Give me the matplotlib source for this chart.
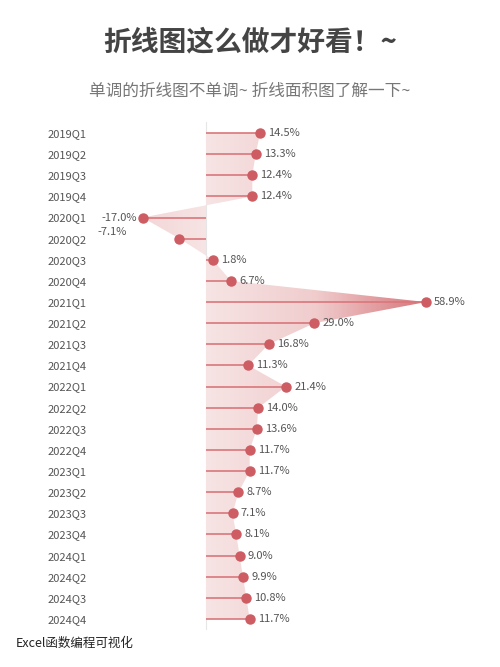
import matplotlib
matplotlib.use("Agg")
import matplotlib.pyplot as plt
import numpy as np
from matplotlib.colors import LinearSegmentedColormap

plt.rcParams['font.family'] = ['Noto Sans CJK SC', 'DejaVu Sans']

quarters = [f"{y}Q{q}" for y in range(2019, 2025) for q in range(1, 5)]
values = [14.5, 13.3, 12.4, 12.4, -17.0, -7.1, 1.8, 6.7, 58.9, 29.0, 16.8, 11.3,
          21.4, 14.0, 13.6, 11.7, 11.7, 8.7, 7.1, 8.1, 9.0, 9.9, 10.8, 11.7]

W, H = 500, 667
fig = plt.figure(figsize=(W/100, H/100), dpi=100)
fig.patch.set_facecolor('white')

l, r, t, b = 130, 470, 122, 630
ax = fig.add_axes([l/W, 1-b/H, (r-l)/W, (b-t)/H])
ppu = 3.735
ax.set_xlim((l-206)/ppu, (r-206)/ppu)
n = len(values)
sp = (619-133)/(n-1)
ax.set_ylim(n-1 + (b-619)/sp, -(133-t)/sp)
ys = np.arange(n)
v = np.array(values)

line_c = '#d9777c'
dot_c = '#cd5c63'

cmap = LinearSegmentedColormap.from_list('g', ['#f7e4e4', '#f0cccd', '#d6757a'])
xmin, xmax = ax.get_xlim()
ylo, yhi = ax.get_ylim()
xx = np.linspace(xmin, xmax, 600)
grad = np.abs(xx)/58.9
img = ax.imshow(np.tile(grad, (2, 1)), extent=[xmin, xmax, ylo, yhi], cmap=cmap,
                vmin=0, vmax=1, aspect='auto', zorder=1, interpolation='bilinear')
poly = ax.fill_betweenx(ys, 0, v, color='none', lw=0)
img.set_clip_path(poly.get_paths()[0], transform=ax.transData)
ax.set_xlim(xmin, xmax); ax.set_ylim(ylo, yhi)

ax.hlines(ys, 0, v, color=line_c, lw=1.2, zorder=2)
ax.plot(v, ys, 'o', color=dot_c, ms=6.5, zorder=3)
ax.axvline(0, color='#e6e6e6', lw=0.8, zorder=0)

for i, val in enumerate(values):
    s = f"{val:.1f}%"
    if val >= 0:
        ax.text(val + 2.2, i, s, va='center', ha='left', fontsize=8, color='#555555')
    elif i == 4:
        ax.text(val - 1.6, i, s, va='center', ha='right', fontsize=8, color='#555555')
    else:
        ax.text(val - 14, i - 0.3, s, va='center', ha='right', fontsize=8, color='#555555')

ax.set_yticks(ys)
ax.set_yticklabels(quarters, fontsize=8, color='#555555')
ax.tick_params(axis='y', length=0, pad=31)
ax.set_xticks([])
for sp_ in ax.spines.values():
    sp_.set_visible(False)

fig.text(0.5, 1-42/H, "折线图这么做才好看！~", ha='center', va='center',
         fontsize=20, fontweight='bold', color='#444444')
fig.text(0.5, 1-91/H, "单调的折线图不单调~ 折线面积图了解一下~", ha='center', va='center',
         fontsize=12, color='#777777')
fig.text(16/W, 1-643/H, "Excel函数编程可视化", ha='left', va='center', fontsize=9, color='#222222')

fig.savefig('out.png', dpi=100)
